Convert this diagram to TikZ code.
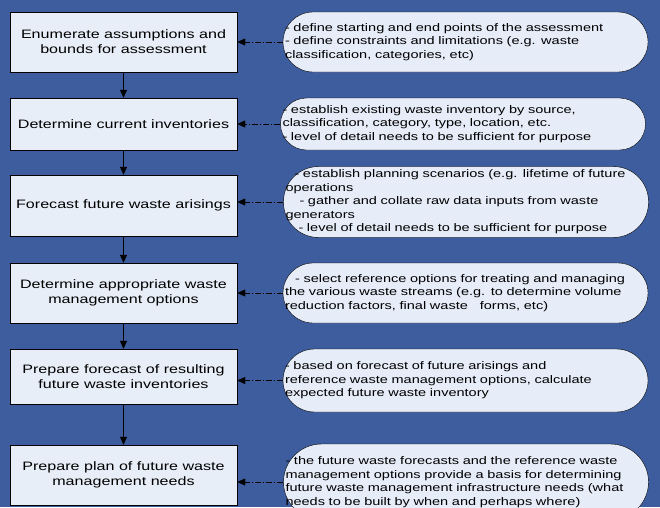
\documentclass[tikz,border=0pt]{standalone}
\usepackage{fontspec}
\usepackage{tikz}
\usetikzlibrary{arrows.meta,positioning}
\newfontfamily\chartfont[FakeStretch=1.32]{Liberation Sans}
\definecolor{slidebg}{HTML}{3E5D9E}
\definecolor{boxfill}{HTML}{E8EEF8}
\definecolor{notefill}{HTML}{E6ECF8}
\tikzset{
  stepbox/.style={draw=black, fill=boxfill, minimum width=227pt, minimum height=#1,
    align=center, inner sep=2pt, font=\chartfont\fontsize{12.2}{15}\selectfont},
  notebox/.style={draw=black, fill=notefill, minimum width=365pt, minimum height=#1,
    rounded corners=#1/2, text width=361pt, align=left, inner xsep=2pt,
    font=\chartfont\fontsize{11}{13.5}\selectfont},
  flow/.style={-{Triangle[length=8pt,width=7pt]}, thick},
  feed/.style={-{Triangle[length=8pt,width=7pt]}, dash pattern=on 6pt off 2pt on 1pt off 2pt}
}

\begin{document}
\begin{tikzpicture}[x=1pt,y=-1pt]
    % Background of the slide
    \fill[slidebg] (0,0) rectangle (660,507);
    \useasboundingbox (0,0) rectangle (660,507);

    % Steps of the assessment
    \node[stepbox=60pt] (b1) at (123.5,42) {Enumerate assumptions and\\bounds for assessment};
    \node[stepbox=52pt] (b2) at (123.5,124) {Determine current inventories};
    \node[stepbox=61pt] (b3) at (123.5,205.5) {Forecast future waste arisings};
    \node[stepbox=60pt] (b4) at (123.5,293) {Determine appropriate waste\\management options};
    \node[stepbox=55pt] (b5) at (123.5,376.5) {Prepare forecast of resulting\\future waste inventories};
    \node[stepbox=60pt] (b6) at (123.5,475) {Prepare plan of future waste\\management needs};

    % Notes for each step
    \node[notebox=60pt] (n1) at (465.5,42) {- define starting and end points of the assessment\\
      - define constraints and limitations (e.g. waste\\classification, categories, etc)};
    \node[notebox=52pt] (n2) at (463,124) {- establish existing waste inventory by source,\\
      classification, category, type, location, etc.\\- level of detail needs to be sufficient for purpose};
    \node[notebox=70pt] (n3) at (466,202) {\hspace*{9pt}- establish planning scenarios (e.g. lifetime of future\\
      operations\\\hspace*{14pt}- gather and collate raw data inputs from waste\\generators\\
      \hspace*{13pt}- level of detail needs to be sufficient for purpose};
    \node[notebox=60pt] (n4) at (465.5,293) {\hspace*{10pt}- select reference options for treating and managing\\
      the various waste streams (e.g. to determine volume\\reduction factors, final waste\hspace{12pt}forms, etc)};
    \node[notebox=63pt] (n5) at (465.5,380.5) {- based on forecast of future arisings and\\
      reference waste management options, calculate\\expected future waste inventory};
    \node[notebox=76pt] (n6) at (466,482) {- the future waste forecasts and the reference waste\\
      management options provide a basis for determining\\future waste management infrastructure needs (what\\
      needs to be built by when and perhaps where)};

    % Arrows between the steps
    \foreach \a/\b in {b1/b2, b2/b3, b3/b4, b4/b5, b5/b6}
        \draw[flow] (\a) -- (\b);

    % Dash-dot arrows from the notes
    \foreach \i in {1,...,6}
        \draw[feed] (n\i.west) -- (n\i.west -| b\i.east);
\end{tikzpicture}
\end{document}
